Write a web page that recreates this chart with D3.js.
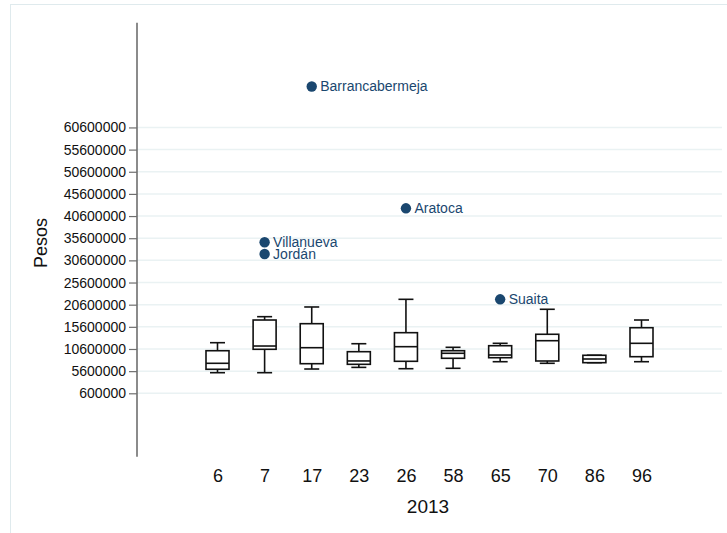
<!DOCTYPE html>
<html>
<head>
<meta charset="utf-8">
<script src="https://cdn.jsdelivr.net/npm/d3@7"></script>
<style>
  html, body { margin: 0; padding: 0; background: #fff; }
  svg { display: block; font-family: "Liberation Sans", Arial, sans-serif; }
</style>
</head>
<body>
<svg id="chart" width="727" height="533"></svg>
<script>
// Municipality codes shown along the x axis (year 2013)
const categories = ["6", "7", "17", "23", "26", "58", "65", "70", "86", "96"];
// Box statistics per category, in pesos
const whiskerLow  = [5250000, 5250000, 6080000, 6450000, 6150000, 6240000, 7730000, 7370000, 7510000, 7730000];
const q1          = [6020000, 10530000, 7280000, 7140000, 7820000, 8500000, 8630000, 7890000, 7510000, 8860000];
const medians     = [7370000, 11270000, 10890000, 7900000, 11120000, 9630000, 9240000, 12470000, 8340000, 11880000];
const q3          = [10210000, 17140000, 16310000, 9990000, 14280000, 10210000, 11340000, 13920000, 9180000, 15400000];
const whiskerHigh = [12020000, 17890000, 20080000, 11790000, 21810000, 10980000, 11880000, 19560000, 9180000, 17140000];
// Outlying municipalities
const outlierCategory = ["17", "26", "7", "7", "65"];
const outlierValue    = [69850000, 42350000, 34680000, 32040000, 21810000];
const outlierName     = ["Barrancabermeja", "Aratoca", "Villanueva", "Jordán", "Suaita"];
// Y axis ticks
const yTicks = [600000, 5600000, 10600000, 15600000, 20600000, 25600000, 30600000,
                35600000, 40600000, 45600000, 50600000, 55600000, 60600000];
const xTitle = "2013";
const yTitle = "Pesos";

const svg = d3.select("#chart");
const navy = "#1a476f";

// Outer frame
svg.append("rect")
  .attr("x", 10.5).attr("y", 4.5).attr("width", 800).attr("height", 600)
  .attr("fill", "none").attr("stroke", "#dfeaed").attr("stroke-width", 1);

const axisX = 137;
const plotRight = 722;
const y = d3.scaleLinear().domain([-13.71e6, 84.24e6]).range([456.7, 22.7]);
const x = d3.scalePoint().domain(categories).range([217.5, 641.5]);

// Gridlines
svg.append("g").selectAll("line").data(yTicks).join("line")
  .attr("x1", axisX).attr("x2", plotRight)
  .attr("y1", d => y(d)).attr("y2", d => y(d))
  .attr("stroke", "#eaf2f3").attr("stroke-width", 1.5);

// Y axis
const yAxis = d3.axisLeft(y).tickValues(yTicks).tickFormat(d3.format("d")).tickSize(8).tickSizeOuter(0);
const gy = svg.append("g").attr("transform", `translate(${axisX},0)`).call(yAxis);
gy.select(".domain").remove();
gy.selectAll(".tick line").attr("stroke", "#6e6e6e").attr("stroke-width", 1.2);
gy.selectAll(".tick text").attr("font-size", 14).attr("fill", "#111").attr("x", -11)
  .attr("font-family", "Liberation Sans, Arial, sans-serif");
svg.append("line")
  .attr("x1", axisX).attr("x2", axisX).attr("y1", y.range()[1]).attr("y2", y.range()[0])
  .attr("stroke", "#6e6e6e").attr("stroke-width", 1.6);

// X axis labels (no axis line)
const xAxis = d3.axisBottom(x).tickSize(0);
const gx = svg.append("g").attr("transform", "translate(0,465)").call(xAxis);
gx.select(".domain").remove();
gx.selectAll(".tick text").attr("font-size", 18).attr("fill", "#111").attr("dy", "0.71em")
  .attr("y", 4)
  .attr("font-family", "Liberation Sans, Arial, sans-serif");

// Axis titles
svg.append("text").attr("x", 428).attr("y", 513).attr("text-anchor", "middle")
  .attr("font-size", 19).attr("fill", "#111").text(xTitle);
svg.append("text").attr("transform", "translate(47,243) rotate(-90)").attr("text-anchor", "middle")
  .attr("font-size", 18).attr("fill", "#111").text(yTitle);

// Boxes
const boxW = 23, capW = 15;
const boxes = categories.map((c, i) => ({
  c, lo: whiskerLow[i], q1: q1[i], med: medians[i], q3: q3[i], hi: whiskerHigh[i]
}));
const g = svg.append("g").attr("stroke", "#111").attr("stroke-width", 1.6).attr("fill", "none");
boxes.forEach(b => {
  const cx = x(b.c);
  // whiskers
  g.append("line").attr("x1", cx).attr("x2", cx).attr("y1", y(b.q3)).attr("y2", y(b.hi));
  g.append("line").attr("x1", cx).attr("x2", cx).attr("y1", y(b.q1)).attr("y2", y(b.lo));
  g.append("line").attr("x1", cx - capW / 2).attr("x2", cx + capW / 2).attr("y1", y(b.hi)).attr("y2", y(b.hi));
  g.append("line").attr("x1", cx - capW / 2).attr("x2", cx + capW / 2).attr("y1", y(b.lo)).attr("y2", y(b.lo));
  // box
  g.append("rect").attr("x", cx - boxW / 2).attr("y", y(b.q3))
    .attr("width", boxW).attr("height", y(b.q1) - y(b.q3)).attr("fill", "#fff");
  // median
  g.append("line").attr("x1", cx - boxW / 2).attr("x2", cx + boxW / 2).attr("y1", y(b.med)).attr("y2", y(b.med));
});

// Outliers with labels
const outliers = outlierName.map((n, i) => ({ n, c: outlierCategory[i], v: outlierValue[i] }));
const og = svg.append("g");
og.selectAll("circle").data(outliers).join("circle")
  .attr("cx", d => x(d.c)).attr("cy", d => y(d.v)).attr("r", 5.2).attr("fill", navy);
og.selectAll("text").data(outliers).join("text")
  .attr("x", d => x(d.c) + 8.5).attr("y", d => y(d.v)).attr("dy", "0.36em")
  .attr("font-size", 14).attr("fill", navy).text(d => d.n);
</script>
</body>
</html>
